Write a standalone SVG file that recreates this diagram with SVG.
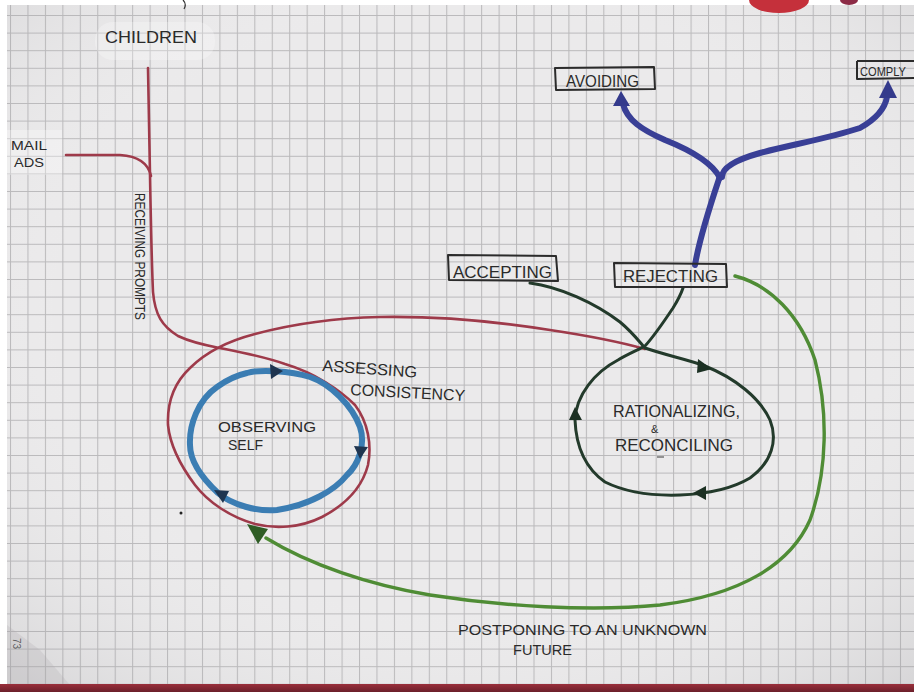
<svg xmlns="http://www.w3.org/2000/svg" width="914" height="692" viewBox="0 0 914 692">
  <style>
    .ink { font-family: "Liberation Sans", "DejaVu Sans", sans-serif; fill: #2a2a2a; }
    .box { fill: none; stroke: #2b2b2b; stroke-width: 2; stroke-linejoin: round; }
    .red { fill: none; stroke: #9e3a4a; stroke-width: 2.6; stroke-linecap: round; stroke-linejoin: round; }
    .blue { fill: none; stroke: #3b7db3; stroke-width: 6; stroke-linecap: round; }
    .navy { fill: none; stroke: #393f96; stroke-width: 6; stroke-linecap: round; stroke-linejoin: round; }
    .dkgreen { fill: none; stroke: #233a2b; stroke-width: 3; stroke-linecap: round; stroke-linejoin: round; }
    .ltgreen { fill: none; stroke: #4f8c35; stroke-width: 3.4; stroke-linecap: round; stroke-linejoin: round; }
    .head-blue { fill: #1f3550; }
    .head-navy { fill: #343a8c; }
    .head-dk { fill: #1c3023; }
    .head-lt { fill: #2f5d25; }
  </style>
  <defs>
    <pattern id="grid" patternUnits="userSpaceOnUse" x="10" y="15" width="17.45" height="17.6">
      <path d="M0.5,0 V17.6 M0,0.5 H17.45" fill="none" stroke="#b9b8ba" stroke-width="1.1"/>
    </pattern>
    <radialGradient id="shade" cx="0.5" cy="0.45" r="0.75">
      <stop offset="0.55" stop-color="#ffffff" stop-opacity="0"/>
      <stop offset="1" stop-color="#8a8a8e" stop-opacity="0.22"/>
    </radialGradient>
    <linearGradient id="edge" x1="0" y1="0" x2="0" y2="1">
      <stop offset="0" stop-color="#9a2f3b"/>
      <stop offset="1" stop-color="#6b1f2a"/>
    </linearGradient>
  </defs>

  <!-- sheet of squared paper -->
  <rect width="914" height="692" fill="#ffffff"/>
  <rect x="7" y="5" width="907" height="680" fill="#ebeaeb"/>
  <rect x="7" y="5" width="907" height="680" fill="url(#grid)"/>
  <rect x="7" y="5" width="907" height="680" fill="url(#shade)"/>
  <!-- folded corner, bottom left -->
  <polygon points="7,625 40,650 70,685 7,685" fill="#b0adb0" opacity="0.25"/>
  <!-- binder edge at the bottom and marks at the top -->
  <rect x="0" y="684" width="914" height="8" fill="url(#edge)"/>
  <rect x="0" y="0" width="914" height="5" fill="#ffffff"/>
  <ellipse cx="779" cy="0" rx="30" ry="13" fill="#c5303b"/>
  <ellipse cx="849" cy="0" rx="9" ry="5" fill="#8c2b46"/>
  <path d="M183,0 Q187,4 184,9" fill="none" stroke="#333" stroke-width="1.2"/>
  <!-- erased patches -->
  <rect x="95" y="22" width="120" height="38" rx="18" fill="#ffffff" opacity="0.25"/>
  <rect x="7" y="130" width="55" height="45" fill="#ffffff" opacity="0.3"/>

  <!-- connectors -->
  <g id="connectors">
    <!-- receiving prompts: children and mail ads feed the outer loop -->
    <path class="red" d="M66,155 L120,155 C136,156 148,162 151,176"/>
    <path class="red" d="M148,68 L150,175 C151,230 152,270 153,292 C155,315 162,326 178,336 C195,344 210,346 225,349 C245,353 265,357 285,364 C315,373 340,390 355,405 C368,422 372,445 368,465 C362,488 345,505 322,517 C300,528 275,529 255,524 C230,517 208,502 195,485 C180,465 170,445 168,425 C167,400 175,382 190,368 C205,353 228,341 255,334 C285,326 330,318 380,317 C440,316 500,322 550,330 C590,336 620,342 645,349"/>

    <!-- observing self cycle -->
    <path class="blue" d="M247,373 C260,369 290,371 310,377 C330,384 352,405 360,427 C366,445 358,465 347,475 C335,490 310,505 277,510 C258,512 232,505 218,493 C202,478 190,462 190,445 C189,425 198,400 217,387 C228,379 238,375 247,373 Z"/>
    <polygon class="head-blue" points="283,371 270,364 271,379"/>
    <polygon class="head-blue" points="360,459 354,446 368,447"/>
    <polygon class="head-blue" points="214,490 229,491 223,503"/>

    <!-- rationalizing and reconciling cycle -->
    <path class="dkgreen" d="M530,283 C560,287 595,303 620,322 C632,332 638,340 645,348 C665,355 690,360 705,366 C735,378 760,398 770,420 C778,440 772,462 750,478 C730,490 705,494 680,495 C650,496 625,492 605,482 C585,468 576,445 575,420 C576,395 595,372 618,360 C628,354 640,349 645,346 C655,335 665,320 673,308 C678,300 681,294 683,288"/>
    <polygon class="head-dk" points="712,369 698,359 697,373"/>
    <polygon class="head-dk" points="693,493 706,486 706,500"/>
    <polygon class="head-dk" points="575,407 569,420 582,420"/>

    <!-- rejecting branches to avoiding and comply -->
    <path class="navy" d="M695,265 C700,235 712,200 720,176"/>
    <path class="navy" d="M720,178 C712,162 690,150 665,140 C642,130 627,120 623,104"/>
    <path class="navy" d="M722,177 C722,168 735,160 760,153 C790,145 830,138 860,128 C878,118 885,108 887,97"/>
    <polygon class="head-navy" points="621,91 613,106 630,106"/>
    <polygon class="head-navy" points="888,80 879,98 897,98"/>

    <!-- postponing to an unknown future -->
    <path class="ltgreen" d="M735,276 C770,285 800,315 815,360 C828,410 828,470 810,520 C790,565 740,595 660,605 C590,612 500,606 430,595 C370,585 310,565 266,538"/>
    <polygon class="head-lt" points="247,524 268,529 258,544"/>
  </g>

  <!-- nodes -->
  <g id="children">
    <text class="ink" x="105" y="43" font-size="17" textLength="92" lengthAdjust="spacingAndGlyphs">CHILDREN</text>
  </g>
  <g id="mail-ads">
    <text class="ink" x="11" y="150" font-size="13" textLength="36" lengthAdjust="spacingAndGlyphs">MAIL</text>
    <text class="ink" x="14" y="167" font-size="13" textLength="30" lengthAdjust="spacingAndGlyphs">ADS</text>
  </g>
  <g id="receiving-prompts">
    <text class="ink" transform="translate(135,193) rotate(90)" font-size="14" textLength="127" lengthAdjust="spacingAndGlyphs">RECEIVING PROMPTS</text>
  </g>
  <g id="observing-self">
    <text class="ink" x="218" y="432" font-size="15.5" textLength="98" lengthAdjust="spacingAndGlyphs">OBSERVING</text>
    <text class="ink" x="228" y="450" font-size="15.5" textLength="35" lengthAdjust="spacingAndGlyphs">SELF</text>
  </g>
  <g id="assessing-consistency">
    <text class="ink" x="322" y="371" font-size="16" textLength="95" lengthAdjust="spacingAndGlyphs" transform="rotate(4 322 371)">ASSESSING</text>
    <text class="ink" x="350" y="395" font-size="16" textLength="115" lengthAdjust="spacingAndGlyphs" transform="rotate(3 350 395)">CONSISTENCY</text>
  </g>
  <g id="rationalizing-reconciling">
    <text class="ink" x="613" y="417" font-size="16.5" textLength="127" lengthAdjust="spacingAndGlyphs">RATIONALIZING,</text>
    <text class="ink" x="651" y="433" font-size="11">&amp;</text>
    <text class="ink" x="615" y="451" font-size="16.5" textLength="118" lengthAdjust="spacingAndGlyphs">RECONCILING</text>
    <path d="M657,457 H664" stroke="#555" stroke-width="1.2"/>
  </g>
  <g id="accepting">
    <path class="box" d="M448,255 L556,256 L558,281 L449,280 Z"/>
    <text class="ink" x="453" y="278" font-size="17" textLength="99" lengthAdjust="spacingAndGlyphs">ACCEPTING</text>
  </g>
  <g id="rejecting">
    <path class="box" d="M614,263 L726,264 L727,287 L615,287 Z"/>
    <text class="ink" x="623" y="282" font-size="17" textLength="95" lengthAdjust="spacingAndGlyphs">REJECTING</text>
  </g>
  <g id="avoiding">
    <path class="box" d="M555,68 L654,67 L655,89 L556,90 Z"/>
    <text class="ink" x="566" y="87" font-size="16" textLength="73" lengthAdjust="spacingAndGlyphs">AVOIDING</text>
  </g>
  <g id="comply">
    <path class="box" d="M857,61 L914,61 M857,61 L857,79 L914,78"/>
    <text class="ink" x="860" y="76" font-size="13" textLength="46" lengthAdjust="spacingAndGlyphs">COMPLY</text>
  </g>
  <g id="postponing">
    <text class="ink" x="458" y="635" font-size="15" textLength="249" lengthAdjust="spacingAndGlyphs">POSTPONING TO AN UNKNOWN</text>
    <text class="ink" x="513" y="655" font-size="15" textLength="59" lengthAdjust="spacingAndGlyphs">FUTURE</text>
  </g>
  <g id="page-number">
    <text class="ink" transform="translate(13,638) rotate(90)" font-size="10" fill-opacity="0.7">73</text>
  </g>
  <circle cx="181" cy="513" r="1.5" fill="#222"/>
</svg>
